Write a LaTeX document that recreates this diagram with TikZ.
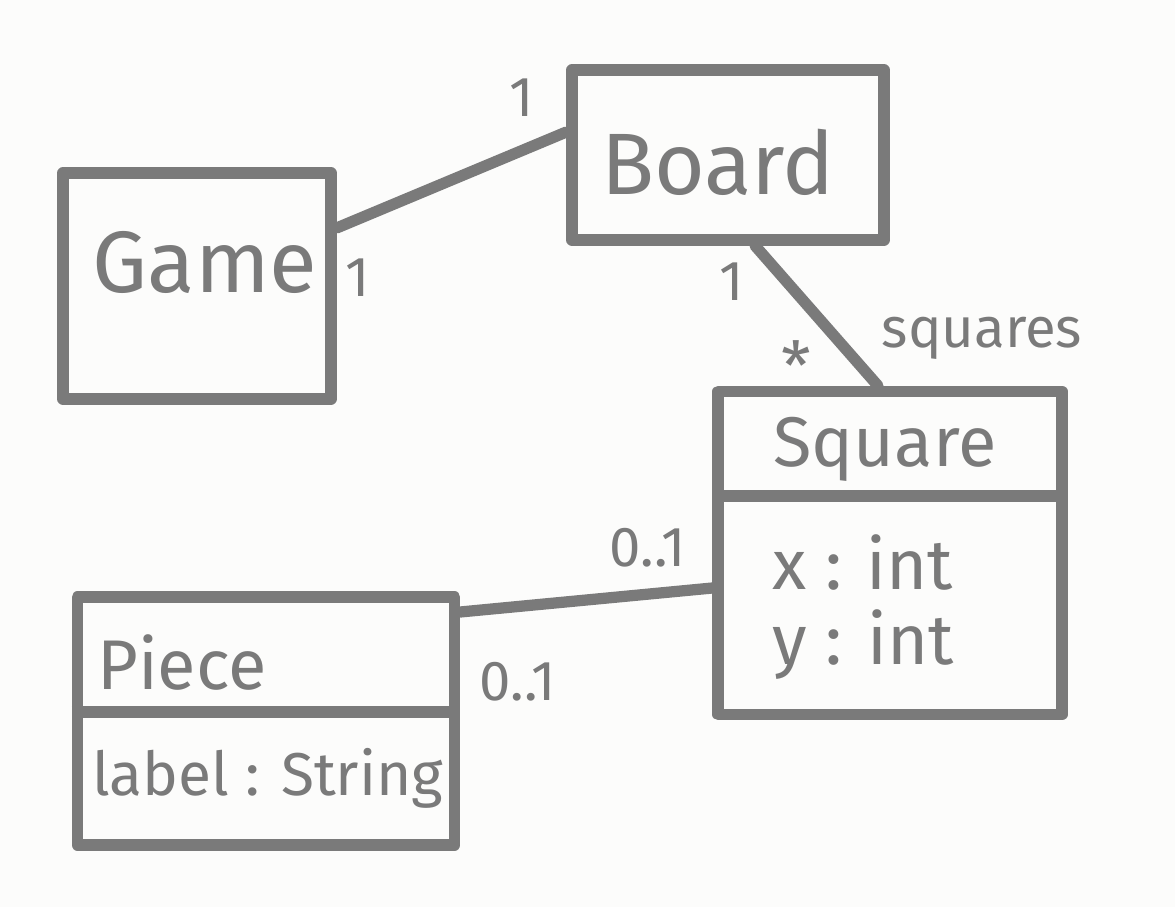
\documentclass[tikz,border=0pt]{standalone}
\usepackage{fontspec}
\setmainfont{Fira Sans}
\definecolor{ink}{HTML}{7A7A7A}
\definecolor{paper}{HTML}{FCFCFB}
\begin{document}
\begin{tikzpicture}[x=0.025cm,y=-0.025cm,
  box/.style={draw=ink, line width=8pt, rectangle, inner sep=0pt, line join=round},
  wire/.style={draw=ink, line width=8pt, line cap=round},
  divider/.style={draw=ink, line width=8pt},
  big/.style={text=ink, font=\fontsize{62}{70}\selectfont, inner sep=0pt},
  mid/.style={text=ink, font=\fontsize{50}{58}\selectfont, inner sep=0pt},
  small/.style={text=ink, font=\fontsize{43}{50}\selectfont, inner sep=0pt},
  mult/.style={text=ink, font=\fontsize{40}{46}\selectfont, inner sep=0pt}]
\fill[paper] (0,0) rectangle (1175,907);
\useasboundingbox (0,0) rectangle (1175,907);
% classes
\node[box, minimum width=6.7cm, minimum height=5.65cm] (game) at (197,286) {};
\node[big] (gamet) at (205,262) {Game};
\node[box, minimum width=7.8cm, minimum height=4.25cm] (board) at (728,155) {};
\node[big] (boardt) at (718,162) {Board};
\node[box, minimum width=8.6cm, minimum height=8.075cm] (square) at (890,553) {};
\node[mid] (squaret) at (885,449) {Square};
\draw[divider] (square.west |- 0,496) -- (square.east |- 0,496);
\node[mid, anchor=west] (sqx) at (772,562) {x : int};
\node[mid, anchor=west] (sqy) at (772,645) {y : int};
\node[box, minimum width=9.425cm, minimum height=6.2cm] (piece) at (266,721) {};
\node[mid] (piecet) at (182,662) {Piece};
\draw[divider] (piece.west |- 0,712) -- (piece.east |- 0,712);
\node[small, anchor=west] (piecea) at (92,778) {label : String};
% associations
\draw[wire] (game.east |- 0,228) -- (board.west |- 0,132);
\draw[wire] (board.south -| 755,0) -- (square.north -| 878,0);
\draw[wire] (piece.east |- 0,612) -- (square.west |- 0,588);
% multiplicities
\node[mult] (m1) at (522,98) {1};
\node[mult] (m2) at (358,278) {1};
\node[mult] (m3) at (732,282) {1};
\node[mult, font=\fontsize{48}{54}\selectfont] (m4) at (796,366) {*};
\node[mult] (m5) at (982,338) {squares};
\node[mult] (m6) at (648,548) {0..1};
\node[mult] (m7) at (518,682) {0..1};
\end{tikzpicture}
\end{document}
